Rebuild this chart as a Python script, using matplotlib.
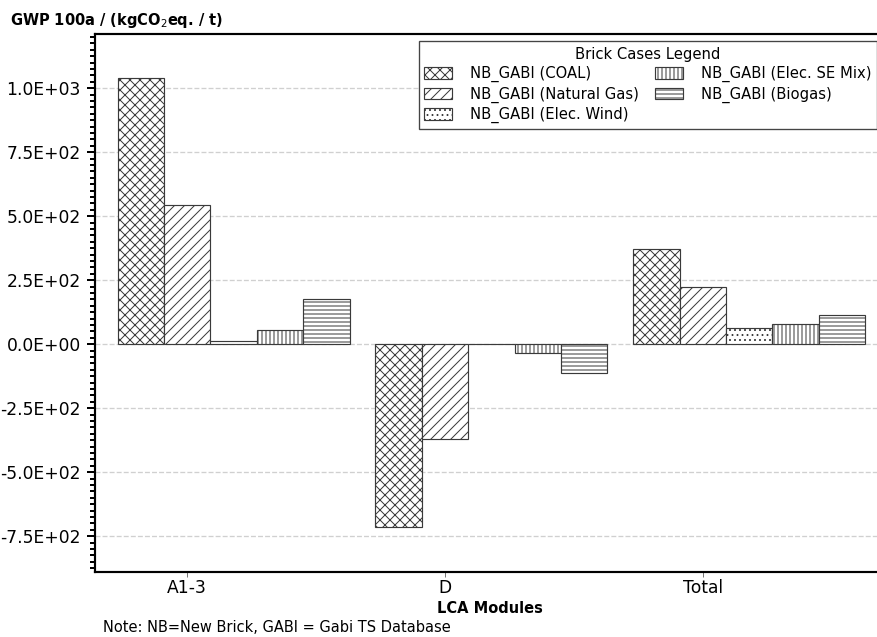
import numpy as np
import matplotlib
matplotlib.use("Agg")
import matplotlib.pyplot as plt
from matplotlib.ticker import MultipleLocator, FuncFormatter

# LCA modules and the brick cases compared in each
modules = ["A1-3", "D", "Total"]
cases = ["NB_GABI (COAL)", "NB_GABI (Natural Gas)", "NB_GABI (Elec. Wind)",
         "NB_GABI (Elec. SE Mix)", "NB_GABI (Biogas)"]

# GWP 100a in kgCO2eq. per tonne, one list per case (A1-3, D, Total)
coal = [1040, -716, 373]
natural_gas = [542, -370, 222]
elec_wind = [12, 2, 65]
elec_se_mix = [57, -33, 78]
biogas = [175, -112, 113]

series = [coal, natural_gas, elec_wind, elec_se_mix, biogas]
hatches = ["xxxx", "////", "....", "|||||", "-----"]

DPI = 120
plt.rcParams["hatch.linewidth"] = 0.6
fig = plt.figure(figsize=(877 / DPI, 637 / DPI), dpi=DPI)
ax = fig.add_axes([95 / 877, 1 - 572 / 637, (884 - 95) / 877, (572 - 34) / 637])

x = np.arange(len(modules))
width = 0.18
for i, (vals, label, h) in enumerate(zip(series, cases, hatches)):
    ax.bar(x + (i - 1) * width, vals, width, label=label, facecolor="white",
           edgecolor="#3a3a3a", linewidth=0.7, hatch=h, zorder=2)

ax.set_xlim(-0.358, 2.703)
ax.set_ylim(-890, 1212)
ax.set_xticks(x)
ax.set_xticklabels(modules, fontsize=10.3)
ax.yaxis.set_major_locator(MultipleLocator(250))
ax.yaxis.set_minor_locator(MultipleLocator(25))
ax.yaxis.set_major_formatter(FuncFormatter(lambda v, _: f"{v:.1E}"))
ax.tick_params(axis="y", which="major", labelsize=10.3, length=5, width=1.2)
ax.tick_params(axis="y", which="minor", length=3, width=1.2)
ax.tick_params(axis="x", length=3, width=0.6, color="#777777", pad=1)

ax.grid(axis="y", linestyle="--", color="#d0d0d0", linewidth=0.8, zorder=0)
ax.set_axisbelow(True)

for side in ["top", "left", "bottom"]:
    ax.spines[side].set_linewidth(1.3)
ax.spines["right"].set_visible(False)

ax.set_xlabel("LCA Modules", fontsize=8.75, fontweight="bold", labelpad=2.5)

leg = ax.legend(title="Brick Cases Legend", ncol=2, loc="upper right",
                fontsize=8.85, title_fontsize=8.85, fancybox=False,
                edgecolor="#444444", framealpha=1, borderaxespad=0.5,
                columnspacing=1.1, handletextpad=1.2, handleheight=0.85,
                handlelength=1.9, labelspacing=0.3, borderpad=0.35)
leg.get_frame().set_linewidth(0.8)

fig.text(10 / 877, 1 - 20 / 637, r"GWP 100a / (kgCO$_2$eq. / t)",
         fontsize=8.75, fontweight="bold", va="center", ha="left")
fig.text(103 / 877, 1 - 628 / 637, "Note: NB=New Brick, GABI = Gabi TS Database",
         fontsize=8.8, va="center", ha="left")

fig.savefig("out.png", dpi=DPI)
